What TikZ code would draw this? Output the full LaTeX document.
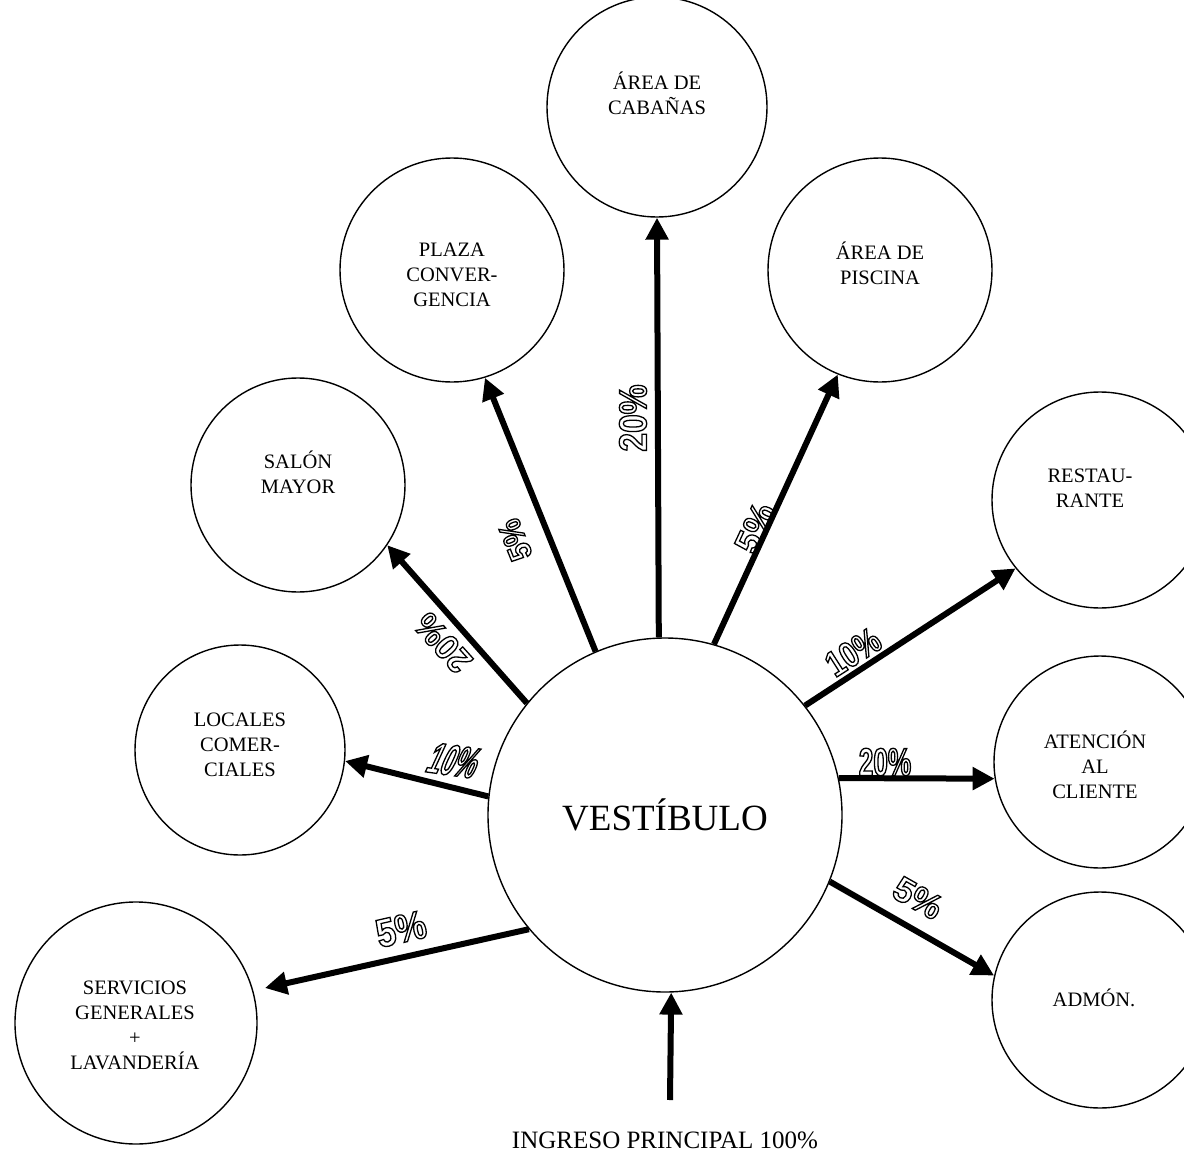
\documentclass[tikz,border=0pt]{standalone}
\usepackage{fontspec}
\setmainfont{Liberation Serif}
\newfontfamily\pctfont{Liberation Sans}
\usetikzlibrary{arrows.meta,calc}

% outlined (hollow) text: PDF text rendering mode 1 (stroke only)
\newcommand\hollow[1]{\special{pdf:literal direct 1 Tr 1.3 w}#1\special{pdf:literal direct 0 Tr}}
% name, position, rotation, size, font features, text
\newcommand\pctnode[6]{%
  \node[pct,rotate=#3,font={\pctfont\addfontfeatures{#5}\bfseries\fontsize{#4}{#4}\selectfont}]
    (#1) at (#2) {\hollow{#6}};
}

\begin{document}
\begin{tikzpicture}[x=1pt,y=-1pt,
  circ/.style={circle,draw,line width=1.4pt,inner sep=0pt},
  lbl/.style={font=\fontsize{20.5}{25}\selectfont,align=center,inner sep=0pt},
  arr/.style={line width=6pt,-{Triangle[length=22pt,width=22pt]}},
  pct/.style={inner sep=0pt}]
\fill[white] (0,0) rectangle (1184,1159);
\useasboundingbox (0,0) rectangle (1184,1159);

% circles
\node[circ,minimum size=354pt] (vest) at (665,815) {};
\node[font=\fontsize{37}{40}\selectfont,inner sep=0pt] (vestt) at (665,815) {VESTÍBULO};
\node[circ,minimum size=220pt] (cab) at (657,107) {};
\node[lbl] (cabt) at (657,93) {ÁREA DE\\CABAÑAS};
\node[circ,minimum size=224pt] (plaza) at (452,270) {};
\node[lbl] (plazat) at (452,275) {PLAZA\\CONVER-\\GENCIA};
\node[circ,minimum size=224pt] (pisc) at (880,270) {};
\node[lbl] (pisct) at (880,263) {ÁREA DE\\PISCINA};
\node[circ,minimum size=214pt] (salon) at (298,485) {};
\node[lbl] (salont) at (298,472) {SALÓN\\MAYOR};
\node[circ,minimum size=216pt] (rest) at (1100,500) {};
\node[lbl] (restt) at (1090,488) {RESTAU-\\RANTE};
\node[circ,minimum size=210pt] (loc) at (240,750) {};
\node[lbl] (loct) at (240,745) {LOCALES\\COMER-\\CIALES};
\node[circ,minimum size=212pt] (aten) at (1100,762) {};
\node[lbl] (atent) at (1095,765) {ATENCIÓN\\AL\\CLIENTE};
\node[circ,minimum size=216pt] (adm) at (1100,1000) {};
\node[lbl] (admt) at (1094,998) {ADMÓN.};
\node[circ,minimum size=242pt] (serv) at (136,1023) {};
\node[lbl] (servt) at (135,1025) {SERVICIOS\\GENERALES\\+\\LAVANDERÍA};
\node[font=\fontsize{25}{28}\selectfont,inner sep=0pt] (ing) at (665,1140) {INGRESO PRINCIPAL 100\%};

% arrows
\draw[arr] (vest.92.7) -- (cab.south);
\draw[arr] (vest.113) -- (plaza.287);
\draw[arr] (vest.74.4) -- (pisc.248.7);
\draw[arr] (vest.141) -- (salon.326.6);
\draw[arr] (vest.38.3) -- (rest.219);
\draw[arr] (vest.174.2) -- (loc.354.4);
\draw[arr] (vest.12) -- (aten.189);
\coordinate (servtip) at (265,988);
\draw[arr] (vest.220) -- (servtip);
\draw[arr] (vest.-22) -- (adm.167);
\coordinate (ingtail) at (670,1100);
\draw[arr] (ingtail) -- (vest.-88);

% percentages
\pctnode{p1}{633,418}{90}{39}{FakeStretch=0.86}{20\%}
\pctnode{p2}{515,540}{112}{32}{FakeStretch=0.9}{5\%}
\pctnode{p3}{443,643}{132}{35}{FakeStretch=0.95}{20\%}
\pctnode{p4}{755,528}{65}{35}{FakeStretch=1}{5\%}
\pctnode{p5}{853,652}{32.6}{36}{FakeStretch=0.8}{10\%}
\pctnode{p6}{450,760}{-8}{44}{FakeStretch=0.55,FakeSlant=0.3}{10\%}
\pctnode{p7}{885,762}{0}{39}{FakeStretch=0.67}{20\%}
\pctnode{p8}{401,929}{12.8}{40}{FakeStretch=0.87}{5\%}
\pctnode{p9}{918,898}{-29.4}{35}{FakeStretch=1}{5\%}
\end{tikzpicture}
\end{document}
